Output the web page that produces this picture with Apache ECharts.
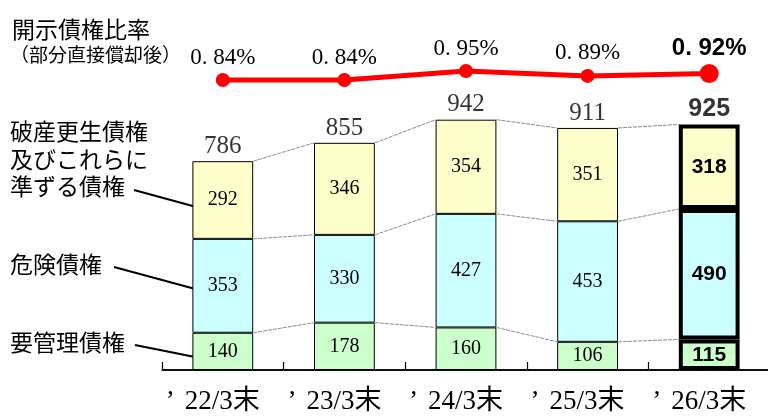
<!DOCTYPE html>
<html>
<head>
<meta charset="utf-8">
<script src="https://cdn.jsdelivr.net/npm/echarts@6/dist/echarts.min.js"></script>
<style>html,body{margin:0;padding:0;background:#fff}#c{width:768px;height:417px}</style>
</head>
<body>
<div id="c"></div>
<script>
var categories = ['’22/3末', '’23/3末', '’24/3末', '’25/3末', '’26/3末'];
var youKanri = [140, 178, 160, 106, 115];     // 要管理債権
var kiken = [353, 330, 427, 453, 490];        // 危険債権
var hasan = [292, 346, 354, 351, 318];        // 破産更生債権及びこれらに準ずる債権
var totals = [786, 855, 942, 911, 925];
var ratios = [0.84, 0.84, 0.95, 0.89, 0.92];  // 開示債権比率 (%)

var SERIF = '"Liberation Serif", "DejaVu Serif", serif';
var JP = '"Noto Sans CJK JP", sans-serif';
var BOLD = '"Liberation Sans", Arial, sans-serif';
var last = categories.length - 1;

function segData(arr, color) {
  return arr.map(function (v, i) {
    if (i === last) {
      return {
        value: v,
        itemStyle: { color: color, borderColor: '#000', borderWidth: 4 },
        label: { fontFamily: BOLD, fontWeight: 'bold', fontSize: 21 }
      };
    }
    return v;
  });
}

// connector levels (cumulative tops of each segment)
var lvl1 = youKanri.slice();
var lvl2 = youKanri.map(function (v, i) { return v + kiken[i]; });
var lvl3 = lvl2.map(function (v, i) { return v + hasan[i]; });
var connectors = [];
[lvl1, lvl2, lvl3].forEach(function (L) {
  for (var i = 0; i < L.length - 1; i++) connectors.push([i, L[i], L[i + 1]]);
});

var chart = echarts.init(document.getElementById('c'));
var barLabel = { show: true, position: 'inside', color: '#000', fontFamily: SERIF, fontSize: 20 };

chart.setOption({
  backgroundColor: '#fff',
  animation: false,
  grid: [
    { left: 162, width: 608, top: 104, height: 266, containLabel: false, outerBoundsMode: 'none' },
    { left: 162, width: 608, top: 50.5, height: 57.4, containLabel: false, outerBoundsMode: 'none' }
  ],
  xAxis: [
    {
      type: 'category', data: categories, gridIndex: 0,
      axisLine: { show: true, onZero: false, lineStyle: { color: '#000', width: 1.5 } },
      axisTick: { show: true, inside: true, length: 8, lineStyle: { color: '#000', width: 1.2 } },
      axisLabel: {
        color: '#000', margin: 18, padding: [0, 20, 0, 0],
        formatter: function (v) { return '{q|' + v.charAt(0) + '}{t|' + v.slice(1) + '}'; },
        rich: {
          q: { width: 19, align: 'left', fontFamily: SERIF, fontSize: 27, color: '#000' },
          t: { fontFamily: SERIF + ',' + JP, fontSize: 27, color: '#000' }
        }
      }
    },
    { type: 'category', data: categories, gridIndex: 1, show: false }
  ],
  yAxis: [
    { type: 'value', gridIndex: 0, min: 0, max: 1000, show: false },
    { type: 'value', gridIndex: 1, min: 0.5, max: 1.2, show: false }
  ],
  series: [
    {
      type: 'custom', xAxisIndex: 0, yAxisIndex: 0, z: 1,
      data: connectors,
      renderItem: function (params, api) {
        var i = api.value(0);
        var p0 = api.coord([i, api.value(1)]);
        var p1 = api.coord([i + 1, api.value(2)]);
        var half = api.size([1, 0])[0] * 0.25;
        return {
          type: 'line',
          shape: { x1: p0[0] + half, y1: p0[1], x2: p1[0] - half, y2: p1[1] },
          style: { stroke: '#8c8c8c', lineWidth: 1, lineDash: [4, 1] }
        };
      }
    },
    {
      name: '要管理債権', type: 'bar', stack: 'a', barWidth: '50%', z: 3,
      data: segData(youKanri, '#CCFFCC'),
      itemStyle: { color: '#CCFFCC', borderColor: '#000', borderWidth: 1 },
      label: barLabel,
      markLine: {
        silent: true, symbol: 'none', label: { show: false },
        lineStyle: { color: '#000', width: 1.5, type: 'solid' },
        data: [{ yAxis: 0 }]
      }
    },
    {
      name: '危険債権', type: 'bar', stack: 'a', barWidth: '50%', z: 3,
      data: segData(kiken, '#CCFFFF'),
      itemStyle: { color: '#CCFFFF', borderColor: '#000', borderWidth: 1 },
      label: barLabel
    },
    {
      name: '破産更生債権及びこれらに準ずる債権', type: 'bar', stack: 'a', barWidth: '50%', z: 3,
      data: segData(hasan, '#FFFFCC'),
      itemStyle: { color: '#FFFFCC', borderColor: '#000', borderWidth: 1 },
      label: barLabel
    },
    {
      name: '合計', type: 'scatter', symbolSize: 0, z: 4,
      data: totals.map(function (v, i) {
        if (i === last) return { value: v, label: { fontFamily: BOLD, fontWeight: 'bold', fontSize: 25, distance: 2 } };
        return v;
      }),
      label: { show: true, position: 'top', distance: 2, color: '#000', fontFamily: SERIF, fontSize: 25 }
    },
    {
      name: '開示債権比率', type: 'line', xAxisIndex: 1, yAxisIndex: 1, z: 5,
      data: ratios.map(function (v, i) {
        if (i === last) return {
          value: v, symbolSize: 19,
          label: { fontFamily: BOLD, fontWeight: 'bold', fontSize: 24, distance: 4 }
        };
        return v;
      }),
      symbol: 'circle', symbolSize: 14,
      lineStyle: { color: '#FF0000', width: 5 },
      itemStyle: { color: '#FF0000' },
      label: {
        show: true, position: 'top', distance: 4, color: '#000',
        fontFamily: 'Liberation Serif', fontSize: 23,
        formatter: function (p) { return p.value.toFixed(2).replace('.', '. ') + '%'; }
      }
    }
  ],
  graphic: [
    { type: 'text', left: 12, top: 18, style: { text: '開示債権比率', font: '23px ' + JP, fill: '#000' } },
    { type: 'text', left: 10, top: 45, style: { text: '（部分直接償却後）', font: '19px ' + JP, fill: '#000' } },
    { type: 'text', left: 10, top: 118, style: { text: '破産更生債権\n及びこれらに\n準ずる債権', font: '23px ' + JP, lineHeight: 27.5, fill: '#000' } },
    { type: 'text', left: 10, top: 253, style: { text: '危険債権', font: '23px ' + JP, fill: '#000' } },
    { type: 'text', left: 10, top: 331, style: { text: '要管理債権', font: '23px ' + JP, fill: '#000' } },
    { type: 'line', shape: { x1: 134, y1: 190, x2: 200, y2: 208 }, style: { stroke: '#000', lineWidth: 2 } },
    { type: 'line', shape: { x1: 114, y1: 267, x2: 199, y2: 290 }, style: { stroke: '#000', lineWidth: 2 } },
    { type: 'line', shape: { x1: 135, y1: 345, x2: 200, y2: 358 }, style: { stroke: '#000', lineWidth: 2 } }
  ]
});
</script>
</body>
</html>
